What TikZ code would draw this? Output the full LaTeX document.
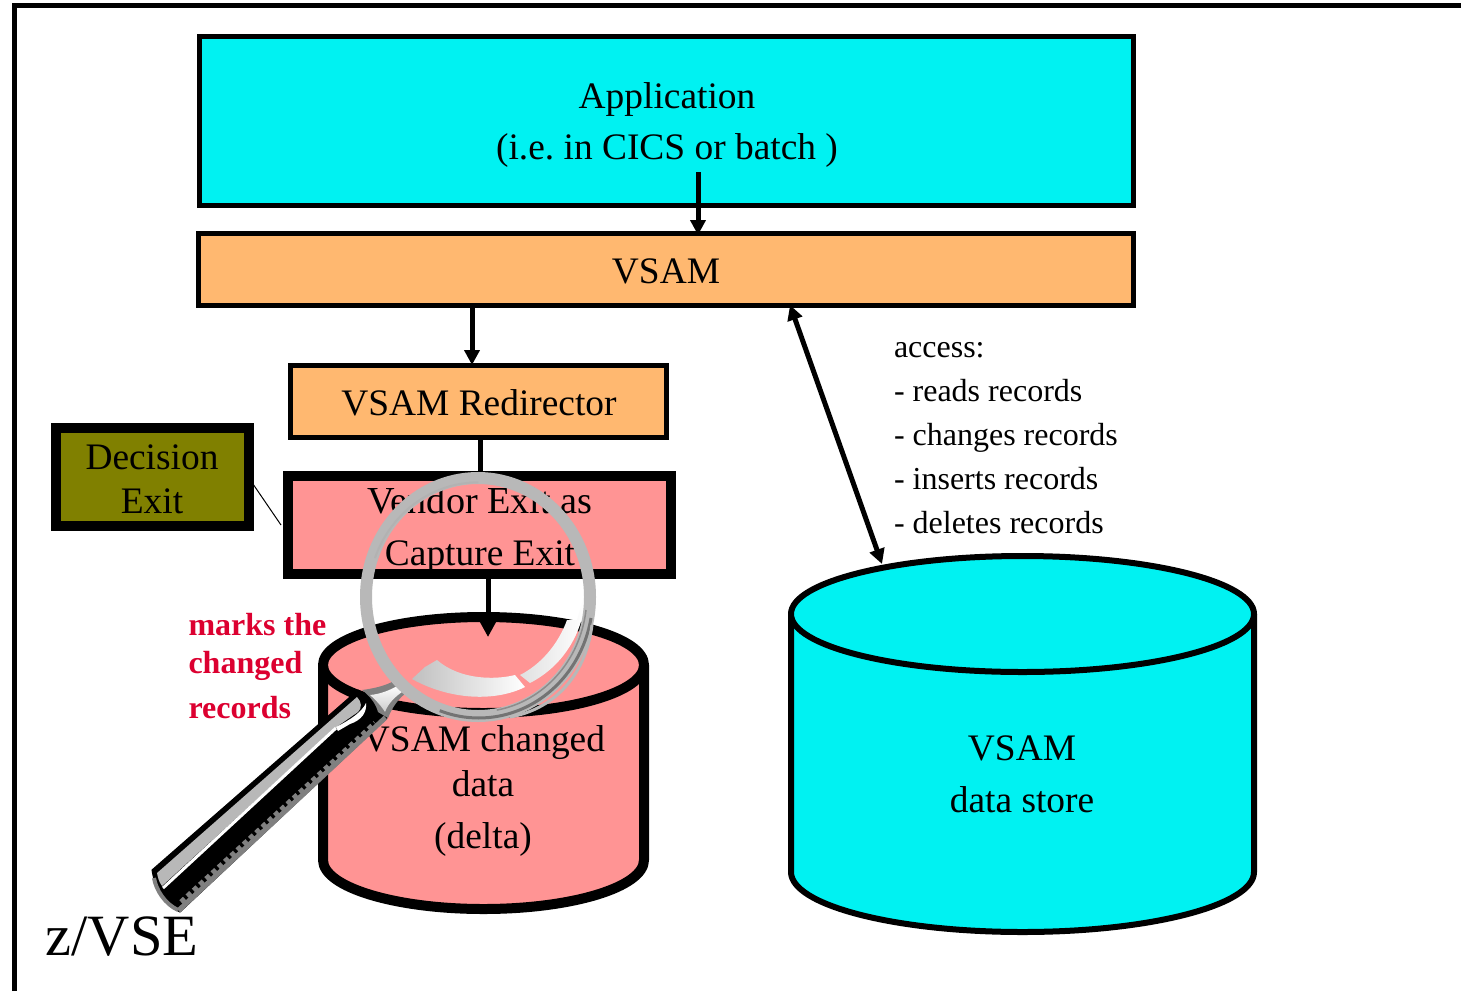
\documentclass[tikz,border=0pt]{standalone}
\usepackage{fontspec}
\setmainfont{Liberation Serif}
\usetikzlibrary{arrows.meta}
\definecolor{cy}{HTML}{00F2F2}
\definecolor{org}{HTML}{FFB870}
\definecolor{pnk}{HTML}{FF9494}
\definecolor{olv}{HTML}{808000}
\definecolor{rd}{HTML}{DC0030}
\definecolor{ring}{HTML}{B8B8B8}
\newcommand{\fsz}[1]{\fontsize{#1}{#1}\selectfont\frenchspacing}
\tikzset{
 box/.style={draw=black,rectangle,inner sep=0,outer sep=0},
 lab/.style={anchor=base,inner sep=0,outer sep=0,font=\fsz{37.4}},
 side/.style={anchor=base west,inner sep=0,outer sep=0,font=\fsz{32}},
 red/.style={anchor=base west,inner sep=0,outer sep=0,font=\fsz{32}\bfseries,text=rd},
 con/.style={line width=5pt,-{Triangle[length=15pt,width=15pt]}},
 plain/.style={line width=5pt},
 cyl/.style={draw=black,line join=round}
}
\begin{document}
\begin{tikzpicture}[x=1pt,y=-1pt]
\useasboundingbox (0,0) rectangle (1461,991);
\fill[white] (0,0) rectangle (1461,991);
% frame
\draw[line width=5pt] (14,991) -- (14,5) -- (1461,5);
% boxes
\node[box,fill=cy,line width=5pt,minimum width=934pt,minimum height=169pt] (app) at (666.5,120.5) {};
\node[box,fill=org,line width=5pt,minimum width=935pt,minimum height=72pt] (vsam) at (666,269) {};
\node[box,fill=org,line width=5pt,minimum width=376pt,minimum height=72pt] (redir) at (478.5,401) {};
\node[box,fill=pnk,line width=10pt,minimum width=383pt,minimum height=98pt] (vendor) at (479.5,525) {};
\node[box,fill=olv,line width=10pt,minimum width=193pt,minimum height=98pt] (exit) at (152.5,477) {};
% right cylinder
\coordinate (storetop) at (882,564);
\draw[cyl,line width=6pt,fill=cy] (791,614) -- (791,872) arc[start angle=180,end angle=0,x radius=231.5,y radius=60] -- (1254,614);
\draw[cyl,line width=6pt,fill=cy] (1022.5,614) ellipse[x radius=231.5,y radius=58];
% left cylinder
\draw[cyl,line width=10pt,fill=pnk] (323,665) -- (323,860) arc[start angle=180,end angle=0,x radius=160.5,y radius=49] -- (644,665);
\draw[cyl,line width=10pt,fill=pnk] (483.5,665) ellipse[x radius=160.5,y radius=48];
\coordinate (deltain) at (488,637);
% connectors
\draw[con] ([xshift=31.5pt,yshift=33pt]app.south) -- ([xshift=32pt,yshift=-2pt]vsam.north);
\draw[con] ([xshift=-194pt]vsam.south) -- ([xshift=-6.5pt]redir.north);
\draw[plain] ([xshift=1.5pt]redir.south) -- ([xshift=0.5pt]vendor.north);
\draw[con] ([xshift=8.5pt]vendor.south) -- (deltain);
\draw[line width=5pt,{Triangle[length=15pt,width=15pt]}-{Triangle[length=15pt,width=15pt]}] ([xshift=124pt]vsam.south) -- (storetop);
\coordinate (lineA) at (253,484);
\coordinate (lineB) at (281,525);
\draw[line width=1pt] (lineA) -- (lineB);
% texts
\node[lab] (t1) at (667,108) {Application};
\node[lab] (t2) at (667,159) {(i.e. in CICS or batch )};
\node[lab] (t3) at (666,283) {VSAM};
\node[lab] (t4) at (479,415) {VSAM Redirector};
\node[lab,font=\fsz{38.2}] (t5) at (480,513) {Vendor Exit as};
\node[lab] (t6) at (480,565) {Capture Exit};
\node[lab] (t7) at (152,469) {Decision};
\node[lab] (t8) at (152,513) {Exit};
\node[lab] (t9) at (484,751) {VSAM changed};
\node[lab] (t10) at (483,796) {data};
\node[lab] (t11) at (483,848) {(delta)};
\node[lab] (t12) at (1022,760) {VSAM};
\node[lab] (t13) at (1022,812) {data store};
\node[side] (a1) at (894,357) {access:};
\node[side] (a2) at (894,401) {- reads records};
\node[side] (a3) at (894,445) {- changes records};
\node[side] (a4) at (894,489) {- inserts records};
\node[side] (a5) at (894,533) {- deletes records};
\node[red] (r1) at (188.5,635) {marks the};
\node[red] (r2) at (188.5,673) {changed};
\node[red] (r3) at (188.5,718) {records};
\node[anchor=base west,inner sep=0,font=\fsz{58.5}] (zvse) at (45.5,955) {z/VSE};
% magnifier gloss
\shade[left color=black!25,right color=white] (412,679) -- (425,667) -- (437,660) .. controls (460,680) and (495,680) .. (515,675) -- (525,687) .. controls (495,702) and (450,700) .. (412,679) -- cycle;
\shade[left color=black!12,right color=white] (520,675) .. controls (540,665) and (558,645) .. (567,620) -- (577,620) -- (586,590) .. controls (585,630) and (565,665) .. (530,683) -- cycle;
% handle
\fill[black,draw=black,line width=1pt] (152,870) -- (358,690) -- (372,697) -- (387,718) -- (180,912) .. controls (165,905) and (155,890) .. (152,870) -- cycle;
\draw[draw=black!50,line width=5pt] (178.5,910.5) -- (385.5,717.5);
\draw[draw=black!50,line width=4pt] (178,910) .. controls (165,904) and (156,890) .. (154,878);
\fill[ring] (157,873) -- (357,697) .. controls (362,702) and (362,708) .. (358,712) -- (335,728) -- (162,886) .. controls (159,882) and (158,878) .. (157,873) -- cycle;
\draw[white,line width=3pt] (163,888) -- (336,728);
\fill[white] (336,727) .. controls (350,720) and (362,712) .. (366,703) .. controls (367,712) and (362,720) .. (350,724) -- (338,731) -- cycle;
\draw[draw=black!50,line width=5pt,dash pattern=on 5pt off 3.5pt] (181,902) -- (375,723);
% ferrule
\fill[black!50] (362,690) .. controls (378,688) and (390,684) .. (397,679) -- (410,690) .. controls (398,698) and (392,708) .. (388,718) -- (378,712) .. controls (376,704) and (370,696) .. (362,690) -- cycle;
\shade[top color=white,bottom color=black!20] (370,695) .. controls (382,694) and (392,689) .. (399,685) -- (405,690) .. controls (394,697) and (388,704) .. (385,712) .. controls (382,707) and (376,700) .. (370,695) -- cycle;
% ring
\draw[ring,line width=12pt] (478,597) ellipse[x radius=112,y radius=119];
\draw[black!55,line width=3pt] (591,618) arc[start angle=10,end angle=110,x radius=114,y radius=121];
\draw[black!45,line width=1.5pt] (586,610) arc[start angle=7,end angle=80,x radius=109,y radius=116];
\draw[black!30,line width=2pt] (375,558) arc[start angle=200,end angle=270,x radius=110,y radius=115];
\draw[ring,line width=3pt] (510,717) .. controls (550,710) and (585,680) .. (592,625);
\end{tikzpicture}
\end{document}
